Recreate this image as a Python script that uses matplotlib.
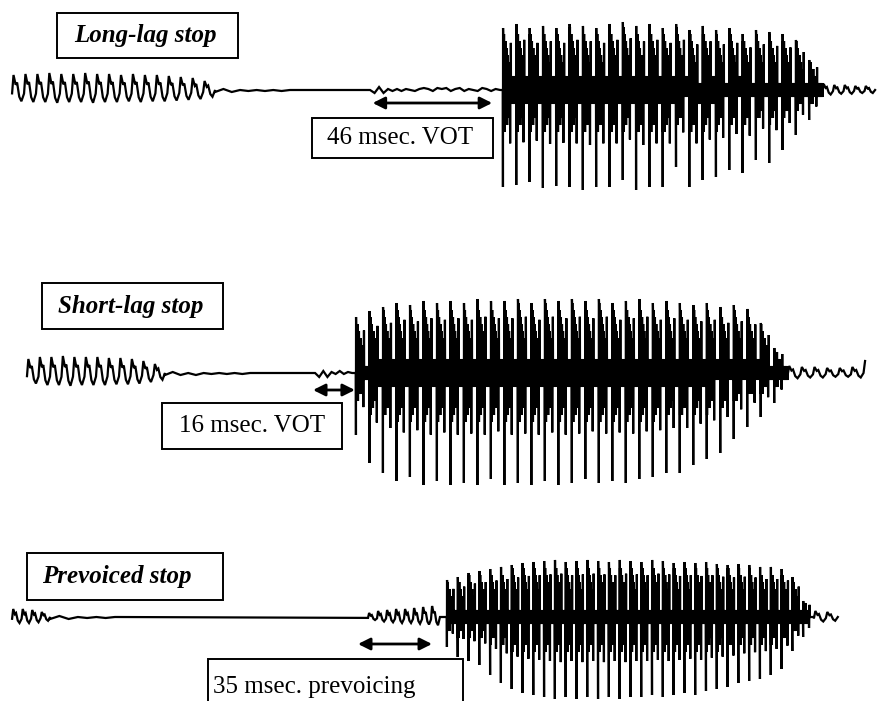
import numpy as np
import matplotlib
matplotlib.use('Agg')
import matplotlib.pyplot as plt
from matplotlib.patches import Rectangle

# time axis in ms, amplitude in arbitrary units (about 1 px each)
PX_PER_MS = 2.57
T_MAX = 881 / PX_PER_MS

# ---------------- long-lag stop ----------------
lead1_span = (4.7, 83.7)
lead1_amp = [15, 16, 16, 17, 16, 16, 17, 16, 16, 15, 16, 15, 15, 14, 13, 12, 9]
ripple1_span = (83.7, 112.8)
ripple1 = [-2, 1, -2, 0, -1, 0, -1, 0, -1, 0]
burst1_span = (144.0, 194.6)
burst1 = [0, -3, 3, -3, 1, -1, 1, -1, 1, 0, -1, 1, 2, 1, -1, 2, 1, 2, -1, 1,
          2, -1, 1, 0, -1, 2, 1, -1, 1, 0]
onset1, period1 = 195.7, 5.18
up1 = [62, 66, 62, 64, 62, 66, 64, 62, 66, 68, 64, 66, 62, 66, 60, 64, 60, 62,
       56, 60, 58, 56, 50, 30]
down1 = [97, 95, 92, 98, 96, 97, 100, 97, 97, 90, 100, 97, 97, 77, 97, 90, 87,
         80, 83, 70, 73, 60, 45, 30]
tail1_end = 340.5
tail1_amp = [6, 5, 5, 4, 4]

# ---------------- short-lag stop ----------------
lead2_span = (10.5, 64.2)
lead2_amp = [14, 16, 16, 17, 16, 16, 16, 15, 15, 14, 12, 9]
ripple2_span = (64.2, 97.3)
ripple2 = [-2, 1, -2, 0, -2, 0, -1, 0, -1, 0, -1, 0]
burst2_span = (122.6, 137.0)
burst2 = [0, -4, 2, -4, 1, -1, 2, -1, 1, 0]
onset2, period2 = 138.5, 5.25
up2 = [56, 62, 66, 70, 68, 72, 70, 72, 70, 74, 72, 72, 74, 70, 74, 72, 74, 72,
       74, 70, 72, 74, 70, 72, 70, 68, 70, 66, 68, 64, 50, 25]
down2 = [62, 90, 100, 108, 104, 112, 108, 112, 110, 112, 106, 112, 110, 112,
         108, 112, 110, 106, 110, 108, 110, 106, 104, 100, 100, 92, 86, 80, 66,
         54, 44, 30]
tail2_end = 336.0
tail2_amp = [7, 6, 6, 5, 5, 6]

# ---------------- prevoiced stop ----------------
lead3_span = (4.7, 19.5)
lead3_amp = [8, 8, 7, 5]
ripple3_span = (19.5, 44.7)
ripple3 = [-2, 1, -2, 0, -1, 0, -1, 0]
prevoice3_span = (143.2, 171.2)
prevoice3_amp = [4, 6, 7, 8, 8, 9, 10, 11]
onset3, period3 = 173.9, 4.2
up3 = [37, 40, 44, 46, 48, 50, 52, 54, 55, 56, 57, 55, 56, 57, 56, 55, 57, 56,
       55, 57, 56, 54, 55, 54, 55, 53, 52, 53, 52, 50, 50, 48, 40, 16]
down3 = [30, 40, 44, 48, 58, 66, 72, 76, 78, 80, 82, 80, 82, 80, 82, 80, 82, 80,
         80, 78, 80, 78, 76, 78, 74, 72, 70, 66, 64, 62, 58, 52, 34, 20]
tail3_end = 326.0
tail3_amp = [6, 5]

titles = ['Long-lag stop', 'Short-lag stop', 'Prevoiced stop']
labels = ['46 msec. VOT', '16 msec. VOT', '35 msec. prevoicing']
arrows = [(145.0, 191.5), (121.8, 138.1), (139.3, 168.1)]

# one voicing cycle before/after the vowel
CYC_PH = np.array([0.0, 0.12, 0.3, 0.42, 0.6, 0.78])
CYC_SHAPE = np.array([-0.3, 1.0, 0.35, 0.5, -0.6, -1.0])


def cycles(t0, t1, amps):
    per = (t1 - t0) / len(amps)
    ts, ys = [], []
    for k, a in enumerate(amps):
        ts.append(t0 + (k + CYC_PH) * per)
        ys.append(np.where(CYC_SHAPE > 0, CYC_SHAPE * a, CYC_SHAPE * a * 0.75))
    ts.append([t1])
    ys.append([0.0])
    return np.concatenate(ts), np.concatenate(ys)


def wiggle(t0, t1, vals):
    return np.linspace(t0, t1, len(vals)), np.array(vals, dtype=float)


def pulses(t0, period, ups, downs, fs=24):
    # glottal pulse: long negative spike, tall stepped ringing block, then a
    # narrow band of low-level ringing until the next pulse
    n = int(period * fs)
    i = np.arange(n)
    ph = i / n
    sign = np.where(i % 2 == 0, 1.0, -1.0)
    ts, ys = [[t0 - 0.05]], [[0.0]]
    for k, (u, d) in enumerate(zip(ups, downs)):
        top = np.where(ph < 0.48, u * (0.95 - 1.15 * ph), 0.17 * u)
        bot = np.where(ph < 0.48, d * (0.46 - 0.42 * ph), 0.12 * d)
        top = np.round(top / 7) * 7
        bot = np.round(bot / 7) * 7
        y = np.where(sign > 0, top, -bot)
        y[0] = -d
        y[1] = u
        y[int(0.6 * n)] = 0.76 * u
        y[int(0.54 * n) | 1] = -0.55 * d
        ts.append(t0 + k * period + i / fs)
        ys.append(y)
    return np.concatenate(ts), np.concatenate(ys)


def build(parts):
    t = np.concatenate([p[0] for p in parts])
    y = np.concatenate([p[1] for p in parts])
    return t, y


wave1 = build([cycles(*lead1_span, lead1_amp), wiggle(*ripple1_span, ripple1),
               wiggle(*burst1_span, burst1),
               pulses(onset1, period1, up1, down1),
               cycles(onset1 + len(up1) * period1, tail1_end, tail1_amp)])
wave2 = build([cycles(*lead2_span, lead2_amp), wiggle(*ripple2_span, ripple2),
               wiggle(*burst2_span, burst2),
               pulses(onset2, period2, up2, down2),
               cycles(onset2 + len(up2) * period2, tail2_end, tail2_amp),
               ([tail2_end + 0.6], [12.0])])
wave3 = build([cycles(*lead3_span, lead3_amp), wiggle(*ripple3_span, ripple3),
               cycles(*prevoice3_span, prevoice3_amp),
               pulses(onset3, period3, up3, down3),
               cycles(onset3 + len(up3) * period3, tail3_end, tail3_amp)])
waves = [wave1, wave2, wave3]

# panel placement (pixel rows of the figure) and y-limits around baseline
rows = [(0, 240, (-150, 90)), (240, 520, (-147, 133)), (520, 701, (-84, 97))]
title_box = [(22.2, 92.6, 32, 77, 56.5, 54.5),
             (16.3, 86.8, 44, 90, 50.8, 67),
             (10.5, 86.8, 17, 64, 45.5, 40.5)]
label_box = [(121.4, 191.8, -68, -28, 155.8, -48, 'center'),
             (63.0, 133.0, -76, -30, 97.9, -53, 'center'),
             (80.9, 180.2, -110, -42, 82.9, -70, 'left')]
arrow_y = [-13, -17, -27]

fig = plt.figure(figsize=(8.81, 7.01), dpi=100)
serif = ['Liberation Serif', 'DejaVu Serif']

for k in range(3):
    top, bot, ylim = rows[k]
    ax = fig.add_axes([0, 1 - bot / 701, 1, (bot - top) / 701])
    ax.set_xlim(0, T_MAX)
    ax.set_ylim(*ylim)
    ax.axis('off')

    t, y = waves[k]
    ax.plot(t, y, color='black', lw=1.6, solid_joinstyle='miter')

    x0, x1, y0, y1, tx, ty = title_box[k]
    ax.add_patch(Rectangle((x0, y0), x1 - x0, y1 - y0, fill=False,
                           edgecolor='black', lw=1.4))
    ax.text(tx, ty, titles[k], ha='center', va='center', fontsize=18,
            family=serif, weight='bold', style='italic')

    x0, x1, y0, y1, tx, ty, ha = label_box[k]
    ax.add_patch(Rectangle((x0, y0), x1 - x0, y1 - y0, fill=False,
                           edgecolor='black', lw=1.4))
    ax.text(tx, ty, labels[k], ha=ha, va='center', fontsize=18, family=serif)

    a0, a1 = arrows[k]
    ax.annotate('', xy=(a1, arrow_y[k]), xytext=(a0, arrow_y[k]),
                arrowprops=dict(arrowstyle='<|-|>', color='black', lw=2,
                                mutation_scale=18, shrinkA=0, shrinkB=0))

fig.savefig('out.png', dpi=100)
